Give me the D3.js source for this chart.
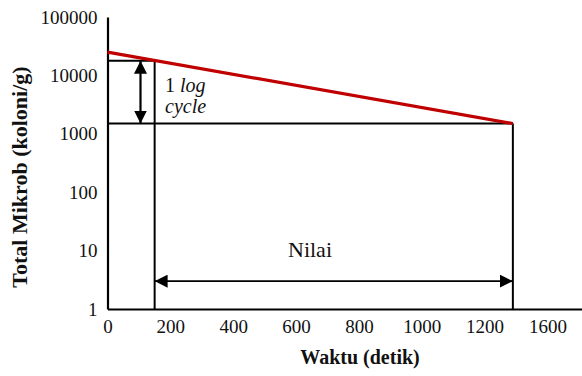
<!DOCTYPE html>
<html lang="en">
<head>
  <meta charset="UTF-8">
  <title>Nilai D</title>
  <script src="https://d3js.org/d3.v7.min.js"></script>
  <style>
    body { margin: 0; background: #fff; }
    svg { display: block; }
    text { font-family: "Liberation Serif", "Times New Roman", serif; fill: #111; }
  </style>
</head>
<body>
  <div id="chart"></div>
  <script>
    // data
    const yTicks = [1, 10, 100, 1000, 10000, 100000];
    const xTickValues = [0, 200, 400, 600, 800, 1000, 1200, 1400];
    const xTickLabels = ['0', '200', '400', '600', '800', '1000', '1200', '1600'];

    // survivor curve (red)
    const curveTime = [0, 1290];
    const curveCount = [25000, 1500];

    // D value construction
    const dStartTime = 150;
    const dStartCount = 17800;
    const dEndTime = 1290;
    const dEndCount = 1500;
    const arrowCount = 3;   // height of the "Nilai" arrow

    const serif = '"Liberation Serif", "Times New Roman", serif';
    const width = 582, height = 376;
    const margin = { top: 17, right: 0, bottom: 67, left: 107.5 };

    const svg = d3.select('#chart').append('svg')
      .attr('width', width)
      .attr('height', height)
      .attr('font-family', serif);

    const defs = svg.append('defs');
    defs.append('marker')
      .attr('id', 'head')
      .attr('viewBox', '0 0 12 12')
      .attr('refX', 12).attr('refY', 6)
      .attr('markerWidth', 13).attr('markerHeight', 13)
      .attr('markerUnits', 'userSpaceOnUse')
      .attr('orient', 'auto-start-reverse')
      .append('path')
      .attr('d', 'M0,0 L12,6 L0,12 Z')
      .attr('fill', '#000');

    const x = d3.scaleLinear()
      .domain([0, 1510])
      .range([margin.left, width - margin.right]);

    const y = d3.scaleLog()
      .domain([1, 100000])
      .range([height - margin.bottom, margin.top]);

    // axes
    const xAxis = svg.append('g')
      .attr('transform', `translate(0,${y(1)})`)
      .call(d3.axisBottom(x)
        .tickValues(xTickValues)
        .tickFormat((d, i) => xTickLabels[i])
        .tickSize(0)
        .tickPadding(11))
      .attr('font-family', serif)
      .attr('font-size', 19);
    xAxis.select('.domain').attr('stroke', '#000').attr('stroke-width', 2.2);
    xAxis.selectAll('text').attr('fill', '#111');

    const yAxis = svg.append('g')
      .attr('transform', `translate(${x(0)},0)`)
      .call(d3.axisLeft(y)
        .tickValues(yTicks)
        .tickFormat(d3.format('d'))
        .tickSize(0)
        .tickPadding(10))
      .attr('font-family', serif)
      .attr('font-size', 19);
    yAxis.select('.domain').attr('stroke', '#000').attr('stroke-width', 2.2);
    yAxis.selectAll('text').attr('fill', '#111');

    // construction lines
    const lines = svg.append('g')
      .attr('stroke', '#000')
      .attr('stroke-width', 2)
      .attr('fill', 'none');

    lines.append('line')
      .attr('x1', x(0)).attr('x2', x(dStartTime))
      .attr('y1', y(dStartCount)).attr('y2', y(dStartCount));
    lines.append('line')
      .attr('x1', x(dStartTime)).attr('x2', x(dStartTime))
      .attr('y1', y(dStartCount)).attr('y2', y(1));
    lines.append('line')
      .attr('x1', x(0)).attr('x2', x(dEndTime))
      .attr('y1', y(dEndCount)).attr('y2', y(dEndCount));
    lines.append('line')
      .attr('x1', x(dEndTime)).attr('x2', x(dEndTime))
      .attr('y1', y(dEndCount)).attr('y2', y(1));

    // double arrows
    svg.append('line')
      .attr('x1', x(105)).attr('x2', x(105))
      .attr('y1', y(dStartCount)).attr('y2', y(dEndCount))
      .attr('stroke', '#000').attr('stroke-width', 2.2)
      .attr('marker-start', 'url(#head)')
      .attr('marker-end', 'url(#head)');

    svg.append('line')
      .attr('x1', x(dStartTime)).attr('x2', x(dEndTime))
      .attr('y1', y(arrowCount)).attr('y2', y(arrowCount))
      .attr('stroke', '#000').attr('stroke-width', 1.6)
      .attr('marker-start', 'url(#head)')
      .attr('marker-end', 'url(#head)');

    // red survivor line
    const curve = curveTime.map((t, i) => [t, curveCount[i]]);
    svg.append('path')
      .datum(curve)
      .attr('fill', 'none')
      .attr('stroke', '#c00000')
      .attr('stroke-width', 3.2)
      .attr('d', d3.line().x(d => x(d[0])).y(d => y(d[1])));

    // annotations
    const logText = svg.append('text')
      .attr('x', 165).attr('y', 92)
      .attr('font-size', 20)
      .attr('fill', '#1b1b3a');
    logText.append('tspan').text('1 ');
    logText.append('tspan').attr('font-style', 'italic').text('log');
    svg.append('text')
      .attr('x', 165).attr('y', 113)
      .attr('font-size', 20)
      .attr('font-style', 'italic')
      .attr('fill', '#1b1b3a')
      .text('cycle');

    svg.append('text')
      .attr('x', 310).attr('y', 257)
      .attr('text-anchor', 'middle')
      .attr('font-size', 22)
      .text('Nilai');

    // axis titles
    svg.append('text')
      .attr('x', 360).attr('y', 364)
      .attr('text-anchor', 'middle')
      .attr('font-size', 20)
      .attr('font-weight', 'bold')
      .text('Waktu (detik)');

    svg.append('text')
      .attr('transform', 'translate(27,177) rotate(-90)')
      .attr('text-anchor', 'middle')
      .attr('font-size', 22)
      .attr('font-weight', 'bold')
      .text('Total Mikrob (koloni/g)');
  </script>
</body>
</html>
